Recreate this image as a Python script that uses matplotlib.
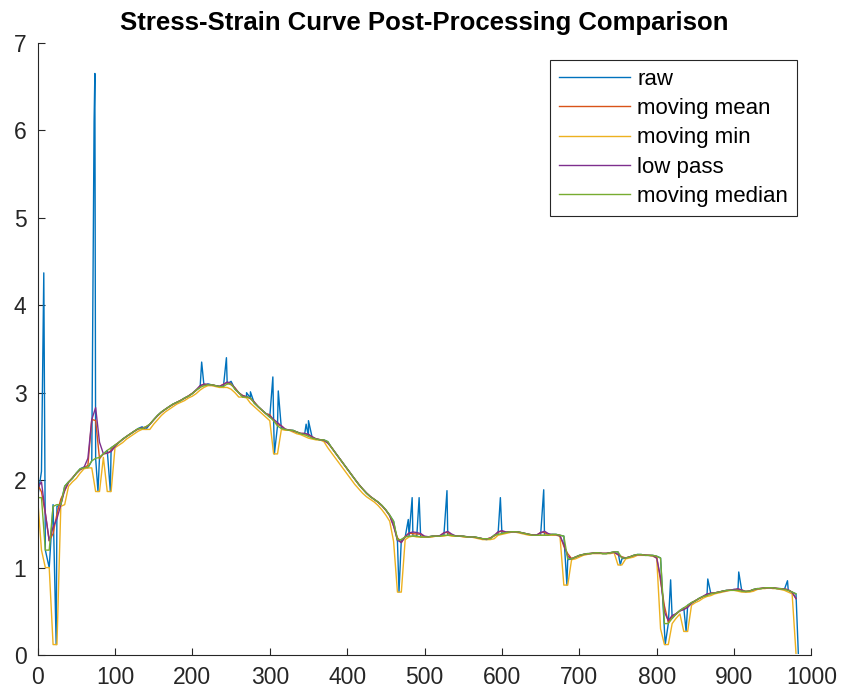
import numpy as np
import matplotlib
matplotlib.use('Agg')
import matplotlib.pyplot as plt

plt.rcParams['font.family'] = ['Liberation Sans', 'DejaVu Sans']

# raw stress, one reading every 5 strain steps
strain = np.arange(0, 981, 5)
stress = np.array([
    1.80, 2.10, 1.20, 1.00, 1.72, 1.70, 1.72, 1.93, 1.98, 2.02,
    2.08, 2.13, 2.15, 2.14, 2.22, 2.25, 2.26, 2.30, 2.34, 2.37,
    2.40, 2.43, 2.47, 2.50, 2.53, 2.56, 2.59, 2.61, 2.58, 2.64,
    2.69, 2.74, 2.78, 2.81, 2.84, 2.87, 2.89, 2.91, 2.94, 2.96,
    2.99, 3.03, 3.06, 3.08, 3.10, 3.09, 3.08, 3.07, 3.06, 3.10,
    3.13, 3.04, 3.00, 2.95, 2.95, 2.94, 2.88, 2.84, 2.80, 2.76,
    2.72, 2.68, 2.62, 2.59, 2.58, 2.57, 2.57, 2.55, 2.53, 2.52,
    2.50, 2.48, 2.47, 2.46, 2.46, 2.44, 2.37, 2.31, 2.25, 2.19,
    2.13, 2.07, 2.01, 1.95, 1.90, 1.85, 1.81, 1.78, 1.75, 1.71,
    1.66, 1.60, 1.53, 1.30, 1.32, 1.35, 1.36, 1.36, 1.36, 1.35,
    1.35, 1.35, 1.36, 1.36, 1.36, 1.37, 1.37, 1.37, 1.36, 1.36,
    1.36, 1.35, 1.35, 1.35, 1.34, 1.33, 1.32, 1.33, 1.37, 1.38,
    1.39, 1.40, 1.41, 1.41, 1.41, 1.40, 1.39, 1.38, 1.37, 1.37,
    1.37, 1.37, 1.37, 1.38, 1.38, 1.37, 1.36, 1.09, 1.10, 1.12,
    1.14, 1.15, 1.16, 1.16, 1.17, 1.17, 1.16, 1.16, 1.17, 1.18,
    1.18, 1.10, 1.11, 1.12, 1.14, 1.15, 1.15, 1.14, 1.14, 1.14,
    1.13, 1.11, 0.30, 0.36, 0.42, 0.47, 0.51, 0.54, 0.57, 0.60,
    0.62, 0.65, 0.67, 0.68, 0.70, 0.71, 0.72, 0.73, 0.74, 0.74,
    0.75, 0.74, 0.73, 0.72, 0.73, 0.75, 0.76, 0.76, 0.77, 0.77,
    0.77, 0.76, 0.76, 0.75, 0.74, 0.72, 0.70,
])

# single-sample glitches in the raw record
glitch_strain = np.array([8, 24, 73, 74, 78, 94, 212, 244, 270, 275,
                          304, 306, 311, 347, 350, 467, 479, 484, 493, 529,
                          598, 654, 684, 753, 811, 818, 838, 866, 906, 969,
                          983])
glitch_stress = np.array([4.37, 0.12, 6.10, 6.65, 1.87, 1.87, 3.35, 3.40, 3.00, 3.01,
                          3.18, 2.30, 3.02, 2.64, 2.68, 0.72, 1.55, 1.80, 1.80, 1.88,
                          1.80, 1.89, 0.80, 1.03, 0.12, 0.86, 0.27, 0.87, 0.95, 0.85,
                          0.02])

labels = ['raw', 'moving mean', 'moving min', 'low pass', 'moving median']
colors = ['#0072BD', '#D95319', '#EDB120', '#7E2F8E', '#77AC30']

# merge: a base reading stands for 5 samples, a glitch for one
x = np.concatenate([strain, glitch_strain])
y = np.concatenate([stress, glitch_stress])
w = np.concatenate([np.full(len(strain), 5.0), np.ones(len(glitch_strain))])
order = np.argsort(x, kind='stable')
x, y, w = x[order], y[order], w[order]

mov_mean, mov_min, low_pass, mov_median = [], [], [], []
for t in strain:
    near = np.abs(x - t) <= 5
    yy, ww = y[near], w[near]
    mov_mean.append(np.sum(yy * ww) / np.sum(ww))
    mov_min.append(yy.min())
    srt = np.argsort(yy)
    cum = np.cumsum(ww[srt])
    mov_median.append(yy[srt][np.searchsorted(cum, cum[-1] / 2)])
    g = w * np.exp(-(x - t) ** 2 / (2 * 4.0 ** 2))
    low_pass.append(np.sum(g * y) / np.sum(g))

fig = plt.figure(figsize=(8.43, 6.91), dpi=100)
ax = fig.add_axes([0.0446, 0.052, 0.918, 0.886])

ax.plot(x, y, color=colors[0], lw=1.0, label=labels[0])
ax.plot(strain, mov_mean, color=colors[1], lw=1.0, label=labels[1])
ax.plot(strain, mov_min, color=colors[2], lw=1.0, label=labels[2])
ax.plot(strain, low_pass, color=colors[3], lw=1.0, label=labels[3])
ax.plot(strain, mov_median, color=colors[4], lw=1.0, label=labels[4])

ax.set_xlim(0, 1000)
ax.set_ylim(0, 7)
ax.set_xticks(np.arange(0, 1001, 100))
ax.set_yticks(np.arange(0, 8, 1))
for s in ['top', 'right']:
    ax.spines[s].set_visible(False)
for s in ['left', 'bottom']:
    ax.spines[s].set_color('#262626')
    ax.spines[s].set_linewidth(0.8)
ax.tick_params(direction='in', length=5, width=0.8, color='#262626',
               labelcolor='#262626', labelsize=16.5, pad=8)

ax.set_title('Stress-Strain Curve Post-Processing Comparison',
             fontsize=18.5, fontweight='bold', pad=9)

leg = ax.legend(loc='upper right', bbox_to_anchor=(0.981, 0.972), borderaxespad=0,
                fontsize=16, handlelength=3.2, labelspacing=0.37, fancybox=False,
                framealpha=1, edgecolor='#262626', borderpad=0.4, handletextpad=0.3)
leg.get_frame().set_linewidth(0.8)

fig.savefig('out.png', dpi=100)
